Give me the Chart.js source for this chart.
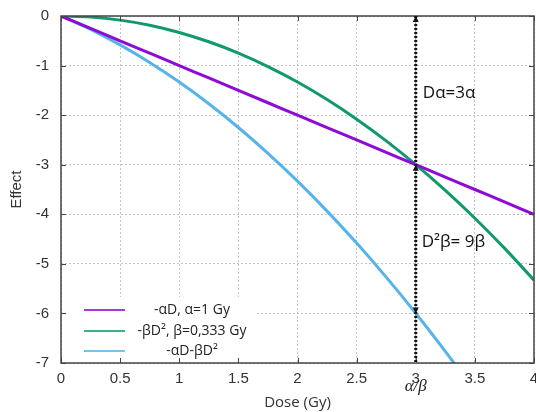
<!DOCTYPE html>
<html><head><meta charset="utf-8">
<script src="https://cdn.jsdelivr.net/npm/chart.js@4/dist/chart.umd.min.js"></script>
<style>html,body{margin:0;padding:0;background:#fff}#wrap{width:536px;height:412px}</style>
</head><body><div id="wrap"><canvas id="c" width="536" height="412"></canvas></div>
<script>
const doses = [0, 0.25, 0.5, 0.75, 1, 1.25, 1.5, 1.75, 2, 2.25, 2.5, 2.75, 3, 3.25, 3.5, 3.75, 4];
const linearEffect = [0, -0.25, -0.5, -0.75, -1, -1.25, -1.5, -1.75, -2, -2.25, -2.5, -2.75, -3, -3.25, -3.5, -3.75, -4];
const quadEffect = [0, -0.021, -0.083, -0.187, -0.333, -0.52, -0.749, -1.02, -1.332, -1.686, -2.081, -2.518, -2.997, -3.517, -4.079, -4.683, -5.328];
const totalEffect = [0, -0.271, -0.583, -0.937, -1.333, -1.77, -2.249, -2.77, -3.332, -3.936, -4.581, -5.268, -5.997, -6.767, -7.579, -8.433, -9.328];
const xTickLabels = ['0', '0.5', '1', '1.5', '2', '2.5', '3', '3.5', '4'];
const yTickLabels = ['-7', '-6', '-5', '-4', '-3', '-2', '-1', '0'];
const seriesLabels = ['-\u03b1D, \u03b1=1 Gy', '-\u03b2D\u00b2, \u03b2=0,333 Gy', '-\u03b1D-\u03b2D\u00b2'];
const seriesColors = ['#8E0AD6', '#10996E', '#56B4E9'];
const markerDose = 3;
const markerArrowPoints = [0, -3, -6];
const annotations = [{text: 'D\u03b1=3\u03b1', x: 3.06, y: -1.55}, {text: 'D\u00b2\u03b2= 9\u03b2', x: 3.05, y: -4.57}];
const ratioLabel = '\u03b1/\u03b2';

const pts = ys => doses.map((d, i) => ({x: d, y: ys[i]}));

const overlay = {
  id: 'overlay',
  afterDatasetsDraw(chart) {
    const {ctx, chartArea: a, scales: {x, y}} = chart;
    ctx.save();
    ctx.strokeStyle = '#444'; ctx.lineWidth = 1;
    x.ticks.forEach(t => {
      const px = Math.round(x.getPixelForValue(t.value)) + 0.5;
      ctx.beginPath(); ctx.moveTo(px, a.bottom); ctx.lineTo(px, a.bottom - 5);
      ctx.moveTo(px, a.top); ctx.lineTo(px, a.top + 5); ctx.stroke();
    });
    y.ticks.forEach(t => {
      const py = Math.round(y.getPixelForValue(t.value)) + 0.5;
      ctx.beginPath(); ctx.moveTo(a.left, py); ctx.lineTo(a.left + 5, py);
      ctx.moveTo(a.right, py); ctx.lineTo(a.right - 5, py); ctx.stroke();
    });
    ctx.strokeStyle = '#444'; ctx.lineWidth = 1.5;
    ctx.strokeRect(a.left, a.top, a.right - a.left, a.bottom - a.top);
    const mx = x.getPixelForValue(markerDose);
    ctx.strokeStyle = '#888'; ctx.lineWidth = 1; ctx.setLineDash([]);
    ctx.beginPath(); ctx.moveTo(mx, a.top); ctx.lineTo(mx, a.bottom); ctx.stroke();
    ctx.strokeStyle = '#111'; ctx.lineWidth = 3; ctx.setLineDash([2, 2]);
    ctx.beginPath(); ctx.moveTo(mx, a.top); ctx.lineTo(mx, a.bottom); ctx.stroke();
    ctx.setLineDash([]);
    ctx.fillStyle = '#111';
    markerArrowPoints.forEach((v, i) => {
      const py = y.getPixelForValue(v);
      const dir = i === 2 ? 1 : -1;
      ctx.beginPath();
      ctx.moveTo(mx, py);
      ctx.lineTo(mx - 3, py - dir * 6);
      ctx.lineTo(mx + 3, py - dir * 6);
      ctx.closePath(); ctx.fill();
    });
    ctx.fillStyle = '#111';
    ctx.font = '17px "Open Sans", "DejaVu Sans", sans-serif';
    ctx.textBaseline = 'middle'; ctx.textAlign = 'left';
    annotations.forEach(an => ctx.fillText(an.text, x.getPixelForValue(an.x), y.getPixelForValue(an.y)));
    ctx.font = 'italic 17px "Liberation Serif", serif';
    ctx.textAlign = 'center';
    ctx.fillStyle = '#222';
    ctx.fillText(ratioLabel, x.getPixelForValue(markerDose), a.bottom + 24);
    ctx.fillStyle = '#fff';
    ctx.fillRect(a.left + 5, a.bottom - 66, 190, 61);
    const rows = [a.bottom - 53, a.bottom - 32, a.bottom - 12];
    chart.data.datasets.forEach((ds, i) => {
      ctx.strokeStyle = ds.borderColor; ctx.lineWidth = 2; ctx.globalAlpha = 0.8;
      ctx.beginPath(); ctx.moveTo(a.left + 23, rows[i]); ctx.lineTo(a.left + 64, rows[i]); ctx.stroke();
      ctx.globalAlpha = 1;
      ctx.fillStyle = '#222';
      ctx.font = '14px "Open Sans", "Liberation Sans", sans-serif';
      ctx.textAlign = 'center';
      ctx.fillText(ds.label, a.left + 131, rows[i]);
    });
    ctx.restore();
  }
};

new Chart(document.getElementById('c'), {
  type: 'line',
  data: {
    datasets: [
      {label: seriesLabels[0], data: pts(linearEffect), borderColor: seriesColors[0]},
      {label: seriesLabels[1], data: pts(quadEffect), borderColor: seriesColors[1]},
      {label: seriesLabels[2], data: pts(totalEffect), borderColor: seriesColors[2]}
    ]
  },
  options: {
    responsive: false,
    animation: false,
    layout: {padding: {left: 0, right: 2, top: 16, bottom: 0}},
    elements: {point: {radius: 0}, line: {borderWidth: 3, cubicInterpolationMode: 'monotone'}},
    plugins: {legend: {display: false}, tooltip: {enabled: false}},
    scales: {
      x: {
        type: 'linear', min: 0, max: 4,
        ticks: {stepSize: 0.5, padding: 7, color: '#333', font: {size: 15, family: '"Liberation Sans", Arial, sans-serif'},
          callback: (v, i) => xTickLabels[i]},
        grid: {color: '#c4c4c4', drawTicks: false},
        border: {display: false, dash: [2, 2]},
        title: {display: true, text: 'Dose (Gy)', color: '#333', font: {size: 15, family: '"Open Sans", "Liberation Sans", sans-serif'}, padding: 0},
        afterFit(s) { s.height = 49; s.paddingLeft = 0; s.paddingRight = 0; }
      },
      y: {
        min: -7, max: 0,
        ticks: {stepSize: 1, padding: 12, color: '#333', font: {size: 15, family: '"Liberation Sans", Arial, sans-serif'},
          callback: (v, i) => yTickLabels[i]},
        grid: {color: '#c4c4c4', drawTicks: false},
        border: {display: false, dash: [2, 2]},
        title: {display: true, text: 'Effect', color: '#333', font: {size: 15, family: '"Liberation Sans", Arial, sans-serif'}, padding: {top: 8, bottom: 4}},
        afterFit(s) { s.width = 61; s.paddingTop = 0; s.paddingBottom = 0; }
      }
    }
  },
  plugins: [overlay]
});
</script>
</body></html>
